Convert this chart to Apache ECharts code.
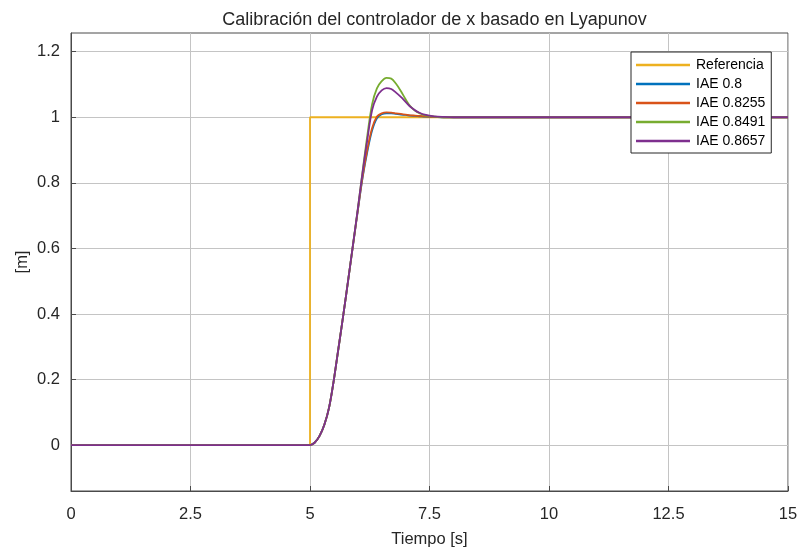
<!DOCTYPE html>
<html>
<head>
<meta charset="utf-8">
<title>Calibración del controlador de x basado en Lyapunov</title>
<script src="https://cdn.jsdelivr.net/npm/echarts@6/dist/echarts.min.js"></script>
<style>
  html, body { margin: 0; padding: 0; background: #ffffff; }
  #chart { width: 800px; height: 547px; }
</style>
</head>
<body>
<div id="chart"></div>
<script>
// Step reference (m) over time (s)
const refTime = [0, 5, 5, 15];
const refValues = [0, 0, 1, 1];

// Sample times (s) of the controller responses
const respTime = [0, 5, 5.1, 5.2, 5.3, 5.4, 5.5, 5.6, 5.7, 5.8, 5.9, 6.0, 6.1, 6.2, 6.3, 6.4, 6.5, 6.6, 6.7, 6.8, 6.9, 7.0, 7.1, 7.2, 7.3, 7.4, 7.6, 7.8, 8.0, 8.5, 15];

// Position x (m) for each calibration
const iae0800 = [0, 0, 0.008, 0.028, 0.062, 0.115, 0.2, 0.3, 0.4, 0.505, 0.61, 0.715, 0.815, 0.895, 0.96, 0.997, 1.009, 1.012, 1.012, 1.010, 1.008, 1.007, 1.005, 1.004, 1.003, 1.002, 1.001, 1.0, 1.0, 1.0, 1.0];
const iae0825 = [0, 0, 0.008, 0.028, 0.062, 0.115, 0.2, 0.3, 0.4, 0.505, 0.61, 0.715, 0.818, 0.902, 0.967, 1.002, 1.012, 1.015, 1.014, 1.012, 1.010, 1.008, 1.006, 1.005, 1.004, 1.003, 1.001, 1.0, 1.0, 1.0, 1.0];
const iae0849 = [0, 0, 0.008, 0.028, 0.062, 0.115, 0.2, 0.3, 0.4, 0.505, 0.612, 0.72, 0.835, 0.945, 1.04, 1.088, 1.11, 1.12, 1.118, 1.102, 1.08, 1.055, 1.033, 1.02, 1.012, 1.006, 1.002, 1.0, 1.0, 1.0, 1.0];
const iae0866 = [0, 0, 0.008, 0.028, 0.062, 0.115, 0.2, 0.3, 0.4, 0.505, 0.612, 0.72, 0.832, 0.932, 1.022, 1.063, 1.082, 1.089, 1.086, 1.075, 1.062, 1.047, 1.032, 1.021, 1.013, 1.008, 1.003, 1.001, 1.0, 1.0, 1.0];

// Axis ticks
const xTicks = [0, 2.5, 5, 7.5, 10, 12.5, 15];
const yTicks = [0, 0.2, 0.4, 0.6, 0.8, 1, 1.2];

const seriesNames = ['Referencia', 'IAE 0.8', 'IAE 0.8255', 'IAE 0.8491', 'IAE 0.8657'];
const seriesColors = ['#EDB120', '#0072BD', '#D95319', '#77AC30', '#7E2F8E'];

function pairs(t, v) { return t.map((x, i) => [x, v[i]]); }

const FONT = '"Liberation Sans", Arial, Helvetica, sans-serif';
const responses = [iae0800, iae0825, iae0849, iae0866];
const FRAME = '#4a4a4a';

const chart = echarts.init(document.getElementById('chart'), null, { renderer: 'canvas' });

const series = [{
  name: seriesNames[0],
  type: 'line',
  data: pairs(refTime, refValues),
  showSymbol: false,
  symbol: 'none',
  lineStyle: { color: seriesColors[0], width: 1.8 },
  itemStyle: { color: seriesColors[0] },
  animation: false
}].concat(responses.map((vals, i) => ({
  name: seriesNames[i + 1],
  type: 'line',
  data: pairs(respTime, vals),
  smooth: 0.35,
  showSymbol: false,
  symbol: 'none',
  lineStyle: { color: seriesColors[i + 1], width: 1.8 },
  itemStyle: { color: seriesColors[i + 1] },
  animation: false
})));

chart.setOption({
  backgroundColor: '#ffffff',
  animation: false,
  textStyle: { fontFamily: FONT },
  title: {
    text: 'Calibración del controlador de x basado en Lyapunov',
    left: 429.5,
    textAlign: 'center',
    top: 6,
    textStyle: { fontFamily: FONT, fontSize: 18, fontWeight: 'normal', color: '#262626' }
  },
  grid: {
    left: 71, right: 12, top: 33, bottom: 56,
    outerBoundsMode: 'none',
    containLabel: false,
    show: true, borderColor: FRAME, borderWidth: 1, backgroundColor: '#ffffff'
  },
  legend: {
    orient: 'vertical',
    left: 631,
    top: 52,
    padding: [6, 6, 5, 5],
    itemGap: 5,
    itemWidth: 54,
    itemHeight: 2.5,
    icon: 'rect',
    backgroundColor: '#ffffff',
    borderColor: '#262626',
    borderWidth: 1,
    borderRadius: 0,
    data: seriesNames,
    textStyle: { fontFamily: FONT, fontSize: 14, color: '#000000', lineHeight: 14, padding: [0, 0, 0, 1] }
  },
  xAxis: {
    type: 'value',
    min: 0, max: 15, interval: 2.5,
    name: 'Tiempo [s]',
    nameLocation: 'middle',
    nameGap: 40,
    nameTextStyle: { fontFamily: FONT, fontSize: 16.5, color: '#262626' },
    axisLine: { show: true, onZero: false, lineStyle: { color: FRAME } },
    axisTick: { show: true, inside: true, length: 5, lineStyle: { color: FRAME } },
    axisLabel: {
      fontFamily: FONT, fontSize: 16.5, color: '#262626', margin: 15,
      customValues: xTicks,
      formatter: v => String(v)
    },
    splitLine: { show: true, lineStyle: { color: '#c4c4c4', width: 1 } }
  },
  yAxis: {
    type: 'value',
    min: -0.14, max: 1.257,
    name: '[m]',
    nameLocation: 'middle',
    nameGap: 40,
    nameMoveOverlap: false,
    nameRotate: 90,
    nameTextStyle: { fontFamily: FONT, fontSize: 16.5, color: '#262626' },
    axisLine: { show: true, onZero: false, lineStyle: { color: FRAME } },
    axisTick: { show: true, inside: true, length: 5, customValues: yTicks, lineStyle: { color: FRAME } },
    axisLabel: {
      fontFamily: FONT, fontSize: 16.5, color: '#262626', margin: 11,
      customValues: yTicks,
      formatter: v => String(Math.round(v * 10) / 10)
    },
    splitLine: { show: true, lineStyle: { color: '#c4c4c4', width: 1 } }
  },
  series: series
});
</script>
</body>
</html>
